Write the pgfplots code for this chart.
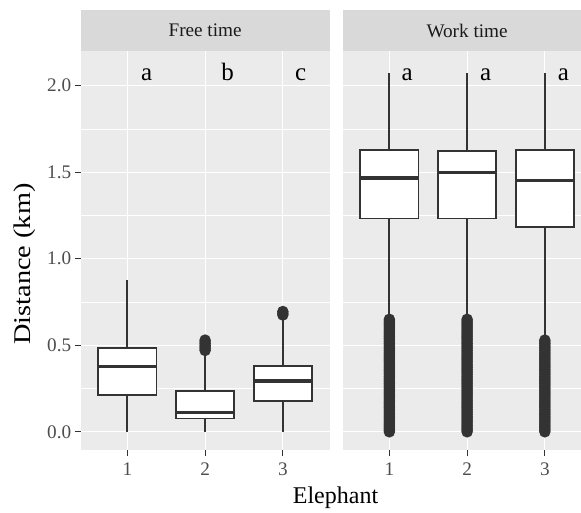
\documentclass[border=0pt]{standalone}
\usepackage{fontspec}
\setmainfont{Liberation Serif}
\usepackage{pgfplots}
\pgfplotsset{compat=1.18}
\usepgfplotslibrary{statistics}

\definecolor{panelbg}{HTML}{EBEBEB}
\definecolor{stripbg}{HTML}{D9D9D9}
\definecolor{boxline}{HTML}{333333}
\definecolor{ticktext}{HTML}{4D4D4D}
\definecolor{striptext}{HTML}{1A1A1A}

% outliers of the work-time boxes: a dense run of distances near zero
\pgfplotstableread{
y
0.00
0.01
0.02
0.03
0.04
0.05
0.06
0.07
0.08
0.09
0.10
0.11
0.12
0.13
0.14
0.15
0.16
0.17
0.18
0.19
0.20
0.21
0.22
0.23
0.24
0.25
0.26
0.27
0.28
0.29
0.30
0.31
0.32
0.33
0.34
0.35
0.36
0.37
0.38
0.39
0.40
0.41
0.42
0.43
0.44
0.45
0.46
0.47
0.48
0.49
0.50
0.51
0.52
0.53
0.54
0.55
0.56
0.57
0.58
0.59
0.60
0.61
0.62
0.63
0.64
0.65
}\workoutA
\pgfplotstableread{
y
0.00
0.01
0.02
0.03
0.04
0.05
0.06
0.07
0.08
0.09
0.10
0.11
0.12
0.13
0.14
0.15
0.16
0.17
0.18
0.19
0.20
0.21
0.22
0.23
0.24
0.25
0.26
0.27
0.28
0.29
0.30
0.31
0.32
0.33
0.34
0.35
0.36
0.37
0.38
0.39
0.40
0.41
0.42
0.43
0.44
0.45
0.46
0.47
0.48
0.49
0.50
0.51
0.52
0.53
0.54
0.55
0.56
0.57
0.58
0.59
0.60
0.61
0.62
0.63
0.64
0.65
}\workoutB
\pgfplotstableread{
y
0.00
0.01
0.02
0.03
0.04
0.05
0.06
0.07
0.08
0.09
0.10
0.11
0.12
0.13
0.14
0.15
0.16
0.17
0.18
0.19
0.20
0.21
0.22
0.23
0.24
0.25
0.26
0.27
0.28
0.29
0.30
0.31
0.32
0.33
0.34
0.35
0.36
0.37
0.38
0.39
0.40
0.41
0.42
0.43
0.44
0.45
0.46
0.47
0.48
0.49
0.50
0.51
0.52
0.53
}\workoutC

\pgfplotsset{
  facet/.style={
    scale only axis, width=248.8pt, height=399pt,
    xmin=0.4, xmax=3.6, ymin=-0.105, ymax=2.2,
    axis background/.style={fill=panelbg},
    axis line style={draw=none},
    xtick={1,2,3}, ytick={0,0.5,1,1.5,2},
    minor ytick={0.25,0.75,1.25,1.75},
    xtick pos=bottom, ytick pos=left,
    xmajorgrids, ymajorgrids, yminorgrids,
    major grid style={white, line width=1.1pt},
    minor grid style={white, line width=0.55pt},
    tick align=outside, major tick length=6pt, minor tick length=0pt,
    tick style={draw=boxline, line width=1.1pt},
    /pgf/number format/assume math mode=true,
    ticklabel style={font=\fontsize{19.2}{22}\selectfont, text=ticktext},
    xticklabel style={yshift=-3pt},
    yticklabel style={/pgf/number format/.cd, fixed, fixed zerofill, precision=1},
    clip=false,
    boxplot/draw direction=y,
    boxplot/box extend=0.75,
    boxplot/whisker extend=0,
    boxplot/every box/.style={fill=white},
    boxplot/every median/.style={line width=3.4pt},
  },
  elebox/.style={draw=boxline, line width=1.8pt, mark=*, mark size=4.8pt,
    mark options={fill=boxline, draw=none}},
}
\tikzset{
  strip/.style={font=\fontsize{19.2}{22}\selectfont, text=striptext},
  letter/.style={font=\fontsize{25}{25}\selectfont, anchor=base},
}

\begin{document}
\begin{tikzpicture}
\useasboundingbox (0,0) rectangle (581pt,512pt);

% ---------------- Free time ----------------
\begin{axis}[facet, at={(80.7pt,62pt)}, anchor=south west]
  \fill[stripbg] (rel axis cs:0,1) rectangle ([yshift=41pt]rel axis cs:1,1);
  \node[strip] at ([yshift=20.5pt]rel axis cs:0.5,1) {Free time};

  \addplot[elebox, boxplot prepared={draw position=1,
      lower whisker=0, lower quartile=0.212, median=0.377,
      upper quartile=0.483, upper whisker=0.875}]
    table[row sep=\\, y index=0] {y\\};
  \addplot[elebox, boxplot prepared={draw position=2,
      lower whisker=0, lower quartile=0.077, median=0.112,
      upper quartile=0.237, upper whisker=0.46}]
    table[row sep=\\, y index=0] {y\\ 0.47\\ 0.48\\ 0.49\\ 0.50\\ 0.51\\ 0.52\\ 0.53\\};
  \addplot[elebox, boxplot prepared={draw position=3,
      lower whisker=0, lower quartile=0.179, median=0.294,
      upper quartile=0.381, upper whisker=0.665}]
    table[row sep=\\, y index=0] {y\\ 0.675\\ 0.685\\ 0.695\\};

  \node[letter] at (axis cs:1.25,2.028) {a};
  \node[letter] at (axis cs:2.29,2.028) {b};
  \node[letter] at (axis cs:3.23,2.028) {c};
\end{axis}

% ---------------- Work time ----------------
\begin{axis}[facet, at={(342.7pt,62pt)}, anchor=south west,
    yticklabels={}, ytick style={draw=none}]
  \fill[stripbg] (rel axis cs:0,1) rectangle ([yshift=41pt]rel axis cs:1,1);
  \node[strip] at ([yshift=20.5pt]rel axis cs:0.5,1) {Work time};

  \addplot[elebox, boxplot prepared={draw position=1,
      lower whisker=0.66, lower quartile=1.232, median=1.467,
      upper quartile=1.626, upper whisker=2.073}]
    table[y index=0] {\workoutA};
  \addplot[elebox, boxplot prepared={draw position=2,
      lower whisker=0.66, lower quartile=1.232, median=1.498,
      upper quartile=1.620, upper whisker=2.073}]
    table[y index=0] {\workoutB};
  \addplot[elebox, boxplot prepared={draw position=3,
      lower whisker=0.54, lower quartile=1.182, median=1.453,
      upper quartile=1.626, upper whisker=2.073}]
    table[y index=0] {\workoutC};

  \node[letter] at (axis cs:1.23,2.028) {a};
  \node[letter] at (axis cs:2.24,2.028) {a};
  \node[letter] at (axis cs:3.24,2.028) {a};
\end{axis}

% axis titles shared by both panels
\node[font=\fontsize{24}{24}\selectfont, rotate=90] at (25pt,248pt)
  {\scalebox{1.18}[1]{Distance (km)}};
\node[font=\fontsize{24}{24}\selectfont, anchor=base] at (335.5pt,9pt) {Elephant};
\end{tikzpicture}
\end{document}
